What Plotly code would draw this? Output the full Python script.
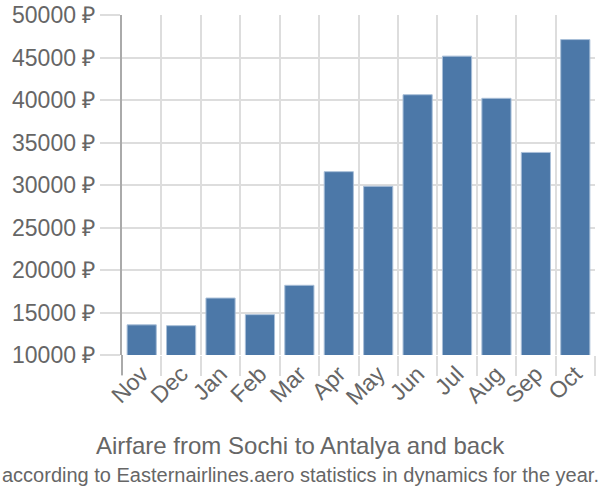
import plotly.graph_objects as go

# Airfare by month (rubles)
months = ["Nov", "Dec", "Jan", "Feb", "Mar", "Apr", "May", "Jun", "Jul", "Aug", "Sep", "Oct"]
prices = [13550, 13450, 16700, 14750, 18200, 31570, 29850, 40620, 45160, 40200, 33830, 47110]
y_ticks = [10000, 15000, 20000, 25000, 30000, 35000, 40000, 45000, 50000]

title = "Airfare from Sochi to Antalya and back"
subtitle = "according to Easternairlines.aero statistics in dynamics for the year."

grid = "#dddddd"
text_col = "#666666"

W, H = 600, 500
L, R, T, B = 122, 5, 15, 145
plot_w = W - L - R
plot_h = H - T - B

fig = go.Figure(go.Bar(
    x=months,
    y=prices,
    marker=dict(color="#4c78a8", line=dict(color="#a9bfd8", width=1)),
    width=0.74,
))

fig.update_layout(
    width=W, height=H,
    margin=dict(l=L, r=R, t=T, b=B),
    plot_bgcolor="white", paper_bgcolor="white",
    showlegend=False,
    font=dict(family="Liberation Sans, Arial, sans-serif", color=text_col),
)

fig.update_xaxes(
    type="category",
    tickson="boundaries",
    showgrid=True, gridcolor=grid, gridwidth=2,
    ticks="outside", ticklen=20, tickcolor=grid, tickwidth=2,
    tickangle=-45,
    tickfont=dict(size=23, color=text_col),
    showline=False,
    automargin=False,
)

fig.update_yaxes(
    range=[10000, 50000],
    tickvals=y_ticks,
    ticktext=[f"{v} ₽" for v in y_ticks],
    showgrid=True, gridcolor=grid, gridwidth=2,
    ticks="outside", ticklen=20, tickcolor=grid, tickwidth=2,
    tickfont=dict(size=23, color=text_col),
    showline=True, linecolor="#aaaaaa", linewidth=2,
    zeroline=False,
    automargin=False,
)

# darker axis line continues below the plot like in the original
fig.add_shape(type="line", xref="paper", yref="paper", x0=0, x1=0, y0=0, y1=-20 / plot_h,
              line=dict(color="#aaaaaa", width=2))


def px_to_paper(px_x, px_y):
    return (px_x - L) / plot_w, (H - B - px_y) / plot_h


tx, ty = px_to_paper(300, 461)
fig.add_annotation(text=title, x=tx, y=ty, xref="paper", yref="paper", showarrow=False,
                   font=dict(size=24, color=text_col))
sx, sy = px_to_paper(300, 488)
fig.add_annotation(text=subtitle, x=sx, y=sy, xref="paper", yref="paper", showarrow=False,
                   font=dict(size=20, color=text_col))

# drop the default page margin so the figure sits at the window's corner
fig.write_html("out.html", config={"displayModeBar": False},
               post_script="document.body.style.margin='0';")
